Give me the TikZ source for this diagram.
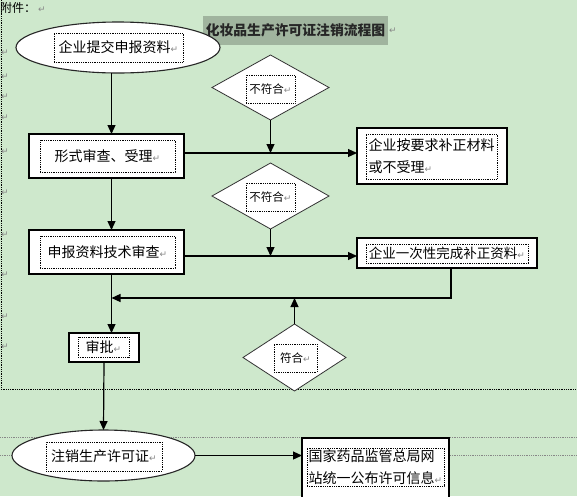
\documentclass[tikz,border=0pt]{standalone}
\usepackage{fontspec}
\setmainfont{Noto Sans CJK SC}
\newfontfamily\symfont{DejaVu Sans}
\usetikzlibrary{arrows.meta, positioning, shapes.geometric}
\definecolor{pagegreen}{RGB}{206,232,204}
\definecolor{titlegray}{RGB}{160,180,158}
\definecolor{markgray}{RGB}{135,135,135}
\newcommand{\parmark}{{\symfont\fontsize{9}{9}\selectfont\color{markgray}↵}}

\begin{document}
\begin{tikzpicture}[x=1pt, y=-1pt,
  every node/.style={inner sep=0pt, outer sep=0pt, font=\fontsize{14}{22}\selectfont},
  shapebox/.style={draw, line width=1.2pt, fill=white},
  oval/.style={draw=black!85, ellipse, line width=1.1pt, fill=white},
  check/.style={draw=black!80, diamond, line width=0.8pt, fill=white},
  frame/.style={draw, densely dotted, line width=0.8pt, align=left},
  small/.style={font=\fontsize{11.5}{14}\selectfont},
  arr/.style={-{Triangle[length=9pt,width=8pt]}, line width=1.2pt},
  guide/.style={densely dotted, line width=0.8pt}]

% page
\clip (0,0) rectangle (577,496);
\fill[pagegreen] (0,0) rectangle (577,496);
\draw[guide] (1,0) -- (1,389) -- (577,389);
\draw[guide, markgray] (0,437) -- (577,437) (0,455) -- (577,455);
\foreach \y in {53,77,97,118,152,193,235,275,317,347}
  \node (pm\y) at (5,\y) {\parmark};

% heading
\node[anchor=west, font=\fontsize{12}{12}\selectfont] (annex) at (0,8) {附件：\,\parmark};
\node[fill=titlegray, text=black!85, font=\bfseries\fontsize{13.8}{14}\selectfont,
      minimum width=185, minimum height=29] (title) at (295.5,30.5) {化妆品生产许可证注销流程图};
\node[right=1pt of title] (titlemk) {\parmark};

% steps
\node[oval, minimum width=204, minimum height=51] (submit) at (118,47.5) {};
\node[frame, minimum width=129, minimum height=29] (submitT) at (118.5,47.5) {企业提交申报资料\parmark};

\node[shapebox, minimum width=155, minimum height=44] (form) at (106.5,156) {};
\node[frame, minimum width=135, minimum height=32] (formT) at (107.5,156) {形式审查、受理\parmark};

\node[shapebox, minimum width=155, minimum height=44] (tech) at (106.5,252) {};
\node[frame, minimum width=135, minimum height=32] (techT) at (107.5,252) {申报资料技术审查\parmark};

\node[shapebox, minimum width=150, minimum height=56] (fix) at (432,156) {};
\node[frame, minimum width=131, minimum height=45] (fixT) at (431.5,156.5) {企业按要求补正材料\\或不受理\parmark};

\node[shapebox, minimum width=180, minimum height=30] (once) at (447,253) {};
\node[frame, font=\fontsize{13.5}{22}\selectfont, minimum width=162, minimum height=19] (onceT) at (447,253.5) {企业一次性完成补正资料\parmark};

\node[shapebox, minimum width=70, minimum height=29] (appr) at (104,347.5) {};
\node[frame, minimum width=51, minimum height=20] (apprT) at (103.5,347) {审批\parmark};

\node[oval, minimum width=183, minimum height=51] (cancel) at (103.5,455.5) {};
\node[frame, minimum width=116, minimum height=29] (cancelT) at (104,456.5) {注销生产许可证\parmark};

\node[shapebox, minimum width=147, minimum height=80] (pub) at (375.5,478) {};
\node[frame, minimum width=137, minimum height=38] (pubT) at (375.5,467) {国家药品监管总局网\\站统一公布许可信息\parmark};

% checks
\node[check, minimum width=117, minimum height=65] (fail1) at (270.5,87.5) {};
\node[frame, small, minimum width=49, minimum height=28] (fail1T) at (270.5,89) {不符合\parmark};

\node[check, minimum width=117, minimum height=66] (fail2) at (270.5,196) {};
\node[frame, small, minimum width=49, minimum height=28] (fail2T) at (270.5,197) {不符合\parmark};

\node[check, minimum width=103, minimum height=67] (pass) at (294.5,357.5) {};
\node[frame, small, minimum width=43, minimum height=28] (passT) at (295.5,358) {符合\parmark};

% connectors
\coordinate (spine) at (111.5,0);
\coordinate (row1) at (0,153);
\coordinate (row2) at (0,256);
\coordinate (merge) at (111.5,298);

\draw[arr] (submit.south -| spine) -- (form.north -| spine);
\draw[arr] (form.south -| spine) -- (tech.north -| spine);
\draw[arr] (tech.south -| spine) -- (appr.north -| spine);
\draw[arr] (appr.south) -- (cancel.north);
\draw[arr] (form.east |- row1) -- (fix.west |- row1);
\draw[arr] (fail1.south) -- (fail1.south |- row1);
\draw[arr] (tech.east |- row2) -- (once.west |- row2);
\draw[arr] (fail2.south) -- (fail2.south |- row2);
\draw[arr] ([xshift=4pt]once.south) |- (merge);
\draw[arr] (pass.north) -- (pass.north |- merge);
\draw[arr] (cancel.east) -- (cancel.east -| pub.west);

\end{tikzpicture}
\end{document}
